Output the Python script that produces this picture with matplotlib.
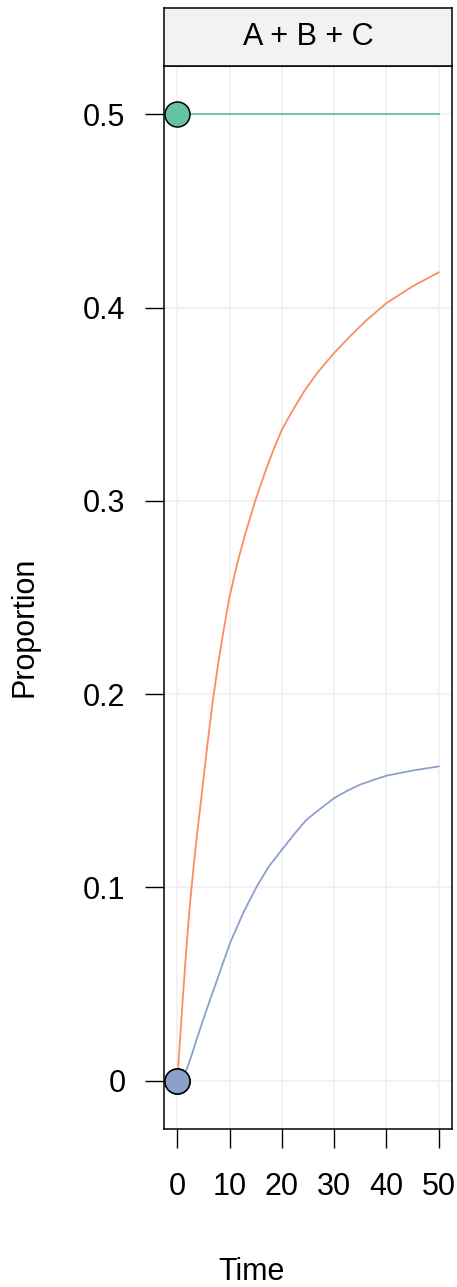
import matplotlib.pyplot as plt

plt.rcParams['font.family'] = ['Liberation Sans', 'DejaVu Sans']

# values
time_a = [0, 50]
prop_a = [0.5, 0.5]

time_b = [0, 0.5, 1.0, 1.5, 2.0, 2.5, 3.0, 3.75, 4.7, 5.67, 6.75, 7.77, 8.85, 10, 11.4, 13,
          14.9, 16.8, 18.4, 20, 22, 24.4, 27, 30, 33, 36, 40, 45, 50]
prop_b = [0, 0.021, 0.041, 0.060, 0.078, 0.094, 0.108, 0.127, 0.149, 0.172, 0.196, 0.215,
          0.233, 0.2505, 0.267, 0.283, 0.300, 0.315, 0.3265, 0.3368, 0.3465, 0.3573, 0.367,
          0.3765, 0.385, 0.393, 0.4023, 0.411, 0.4182]

time_c = [0, 1.0, 1.8, 2.7, 3.7, 5.0, 6.25, 7.4, 8.5, 10.08, 12.6, 15.2, 17.5, 20, 22.5, 24.7,
          27.5, 30, 32.5, 34.9, 37.5, 40, 45.1, 50]
prop_c = [0, 0.0025, 0.006, 0.013, 0.0215, 0.032, 0.0419, 0.0505, 0.0591, 0.0712, 0.0868,
          0.1005, 0.1108, 0.1195, 0.128, 0.135, 0.141, 0.1462, 0.150, 0.1531, 0.1556, 0.1578,
          0.1605, 0.1626]

x_ticks = [0, 10, 20, 30, 40, 50]
y_ticks = [0, 0.1, 0.2, 0.3, 0.4, 0.5]
y_labels = ['0', '0.1', '0.2', '0.3', '0.4', '0.5']

colors = ['#66C2A5', '#FC8D62', '#8DA0CB']
fs = 22

W, H = 457, 1287
fig = plt.figure(figsize=(W / 100, H / 100), dpi=100)

left, right = 164.3 / W, 451.7 / W
bottom, top = 1 - 1129 / H, 1 - 66 / H
ax = fig.add_axes([left, bottom, right - left, top - bottom])

for x in x_ticks:
    ax.axvline(x, color='#EFEFEF', lw=1.1, zorder=0)
for y in y_ticks:
    ax.axhline(y, color='#EFEFEF', lw=1.1, zorder=0)

series = [(time_a, prop_a), (time_b, prop_b), (time_c, prop_c)]
for (t, p), c in zip(series, colors):
    ax.plot(t, p, color=c, lw=1.3, zorder=2)
for (t, p), c in zip(series, colors):
    ax.plot(t[0], p[0], 'o', ms=18, mfc=c, mec='black', mew=1.1, zorder=3, clip_on=False)

ax.set_xlim(-2.5, 52.5)
ax.set_ylim(-0.025, 0.525)
ax.set_xticks(x_ticks)
ax.set_xticklabels([str(v) for v in x_ticks])
ax.set_yticks(y_ticks)
ax.set_yticklabels(y_labels)
ax.tick_params(axis='both', direction='out', length=14, width=1.0, labelsize=fs)
ax.tick_params(axis='x', pad=17)
ax.tick_params(axis='y', pad=14)
for s in ax.spines.values():
    s.set_linewidth(1.1)

# strip on top
sax = fig.add_axes([left, top, right - left, (66 - 8) / H])
sax.set_xticks([])
sax.set_yticks([])
sax.set_facecolor('#F2F2F2')
for s in sax.spines.values():
    s.set_linewidth(1.1)
sax.text(0.5, 0.5, 'A + B + C', ha='center', va='center', fontsize=fs, transform=sax.transAxes)

fig.text(252 / W, 1 - 1272 / H, 'Time', ha='center', va='center', fontsize=fs)
fig.text(25 / W, 1 - 627 / H, 'Proportion', ha='center', va='center', rotation=90, fontsize=fs)

fig.savefig('out.png', dpi=100)
